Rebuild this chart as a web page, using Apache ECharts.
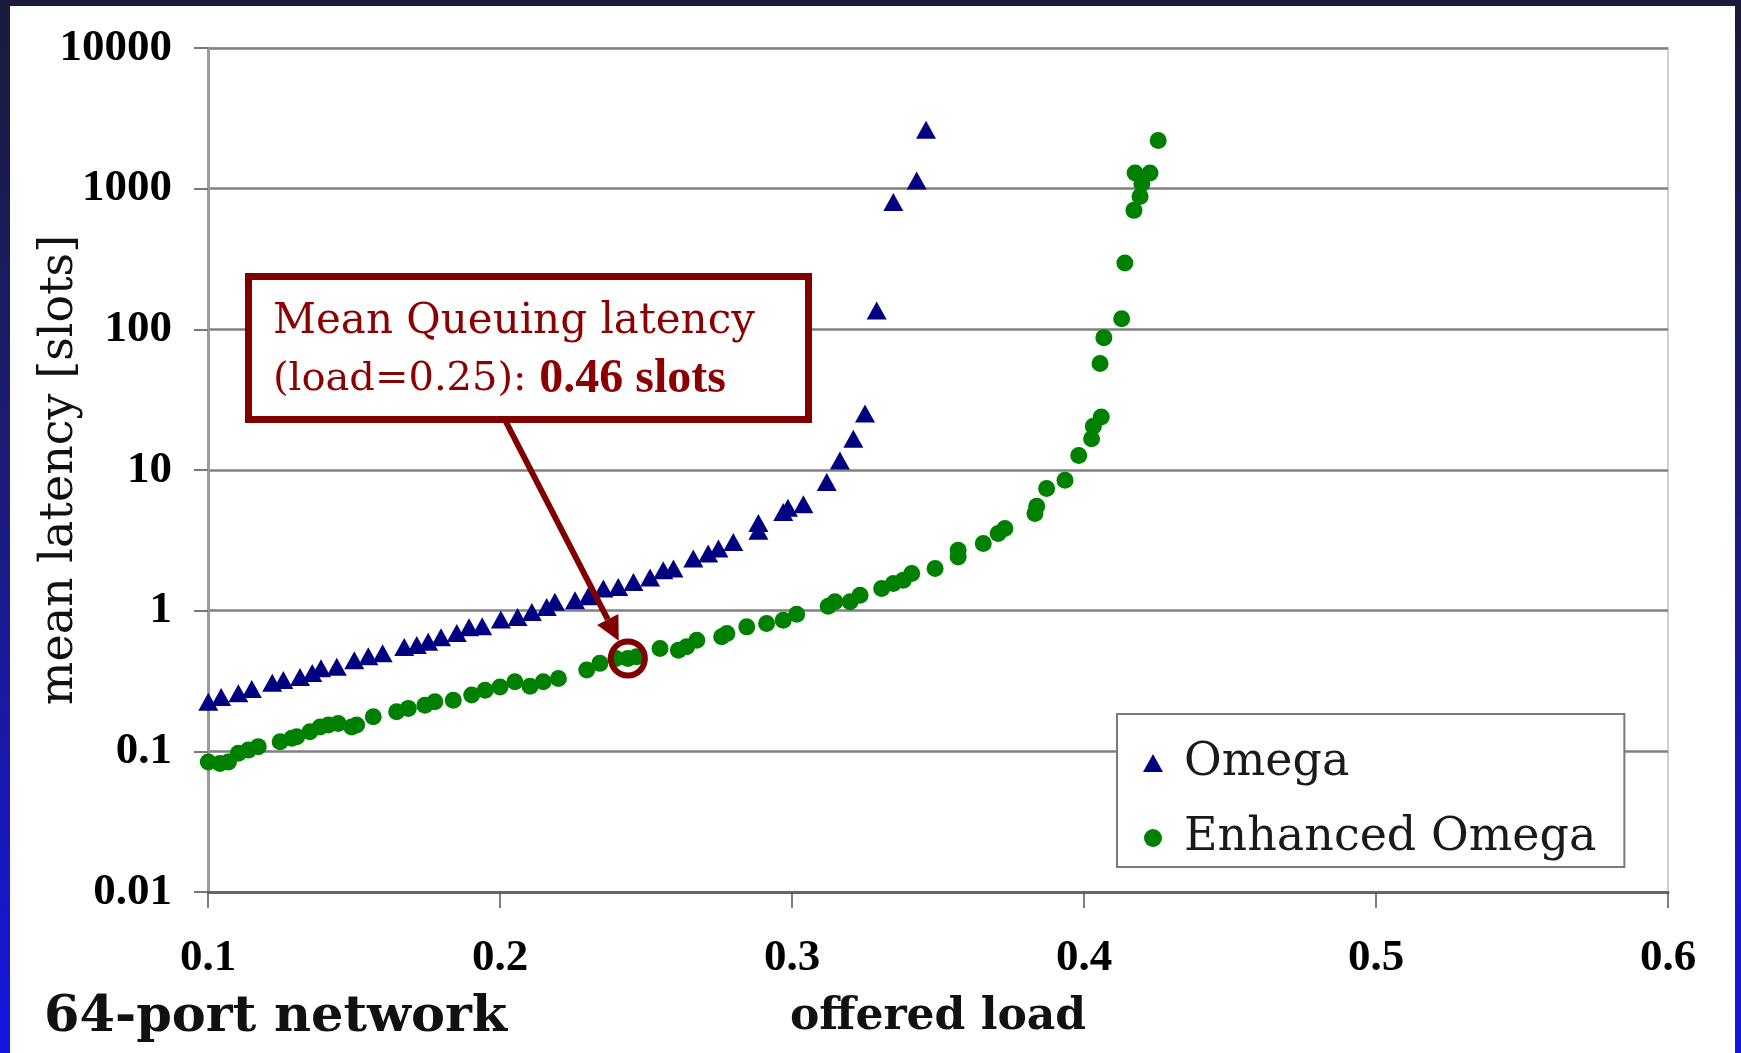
<!DOCTYPE html>
<html>
<head>
<meta charset="utf-8">
<script src="https://cdn.jsdelivr.net/npm/echarts/dist/echarts.min.js"></script>
<style>
  html, body { margin: 0; padding: 0; width: 1741px; height: 1053px; overflow: hidden; }
  body { background: linear-gradient(to bottom, #1b1b3c 0%, #1c1c78 45%, #1616e4 100%); position: relative; }
  #frame { position: absolute; left: 10px; top: 6px; right: 6px; bottom: 0; background: #fff; }
  #chart { position: absolute; left: 0; top: 0; width: 1741px; height: 1053px; }
</style>
</head>
<body>
<div id="frame"></div>
<div id="chart"></div>
<script>
let xTickLabels = ["0.1", "0.2", "0.3", "0.4", "0.5", "0.6"];
let yTickLabels = ["0.01", "0.1", "1", "10", "100", "1000", "10000"];
let seriesNames = ["Omega", "Enhanced Omega"];

// Omega (triangles)
let omegaLoad = [0.1001, 0.1045, 0.1104, 0.115, 0.122, 0.1258, 0.1315, 0.1357, 0.1387, 0.1441,
  0.1501, 0.1549, 0.1598, 0.1672, 0.1715, 0.1754, 0.1798, 0.1852, 0.1894, 0.1939,
  0.2003, 0.206, 0.2109, 0.216, 0.2188, 0.2257, 0.2302, 0.2354, 0.2405, 0.2457,
  0.2514, 0.2559, 0.2594, 0.2662, 0.2713, 0.2748, 0.2799, 0.2885, 0.2885, 0.297,
  0.2986, 0.3039, 0.3119, 0.3164, 0.321, 0.325, 0.329, 0.3347, 0.3427, 0.3459];
let omegaLatency = [0.225, 0.243, 0.259, 0.277, 0.307, 0.321, 0.337, 0.361, 0.39, 0.4,
  0.445, 0.475, 0.499, 0.551, 0.569, 0.6, 0.648, 0.695, 0.763, 0.776,
  0.866, 0.9, 0.98, 1.064, 1.155, 1.188, 1.268, 1.438, 1.476, 1.602,
  1.72, 1.94, 1.995, 2.35, 2.55, 2.77, 3.08, 3.7, 4.2, 5.03,
  5.4, 5.71, 8.22, 11.7, 16.7, 25.2, 136, 803, 1144, 2624];

// Enhanced Omega (dots)
let enhancedLoad = [0.1001, 0.1041, 0.107, 0.1104, 0.1138, 0.1172, 0.1247, 0.1287, 0.1304, 0.1349,
  0.1384, 0.1412, 0.1446, 0.1492, 0.1509, 0.1566, 0.1646, 0.1686, 0.1743, 0.1777,
  0.184, 0.1903, 0.1949, 0.2, 0.2051, 0.2103, 0.2148, 0.22, 0.2297, 0.2342,
  0.2397, 0.2438, 0.2468, 0.2548, 0.2611, 0.2639, 0.2674, 0.2759, 0.2777, 0.2845,
  0.2913, 0.297, 0.3016, 0.3124, 0.3147, 0.3199, 0.3233, 0.3307, 0.3347, 0.3381,
  0.341, 0.349, 0.3569, 0.3569, 0.3655, 0.3706, 0.3729, 0.3832, 0.3838, 0.3872,
  0.3935, 0.3982, 0.4026, 0.4032, 0.4059, 0.4055, 0.4068, 0.4129, 0.414, 0.4171,
  0.4192, 0.4198, 0.4175, 0.4226, 0.4254];
let enhancedLatency = [0.084, 0.082, 0.084, 0.097, 0.102, 0.108, 0.117, 0.124, 0.127, 0.138,
  0.149, 0.154, 0.158, 0.149, 0.154, 0.176, 0.191, 0.202, 0.213, 0.225,
  0.231, 0.251, 0.272, 0.287, 0.312, 0.29, 0.312, 0.33, 0.378, 0.422,
  0.457, 0.457, 0.47, 0.538, 0.524, 0.553, 0.617, 0.652, 0.689, 0.767,
  0.811, 0.856, 0.944, 1.076, 1.155, 1.155, 1.289, 1.438, 1.56, 1.647,
  1.838, 1.995, 2.41, 2.69, 3.0, 3.54, 3.84, 4.91, 5.53, 7.38,
  8.46, 12.7, 16.7, 20.5, 23.8, 57.1, 87.3, 119, 296, 701,
  881, 1084, 1291, 1291, 2202];

// circled point: load=0.25, 0.46 slots
let calloutPoint = [0.2438, 0.457];

let serifText = "DejaVu Serif";
let serifNum = "Liberation Serif";
let darkRed = "#800000";

let chart = echarts.init(document.getElementById("chart"));

chart.setOption({
  animation: false,
  grid: {
    left: 208,
    right: 73,
    top: 48,
    bottom: 161,
    show: true,
    borderColor: "#cfcfcf",
    borderWidth: 2,
    outerBoundsMode: "none",
  },
  legend: {
    orient: "vertical",
    left: 1117,
    top: 714,
    padding: [23, 28, 3, 26],
    itemGap: 23,
    itemWidth: 52,
    itemHeight: 18,
    symbolKeepAspect: true,
    backgroundColor: "#fff",
    borderColor: "#7a7a7a",
    borderWidth: 2,
    textStyle: {
      fontFamily: serifText,
      fontSize: 46,
      lineHeight: 52,
      color: "#1a1a1a",
    },
    data: [
      { name: seriesNames[0], icon: "path://M5,0 L10,9 L0,9 Z" },
      { name: seriesNames[1], icon: "circle" },
    ],
  },
  xAxis: {
    type: "value",
    min: 0.1,
    max: 0.6,
    interval: 0.1,
    name: "offered load",
    nameLocation: "middle",
    nameGap: 104,
    nameMoveOverlap: false,
    nameTextStyle: {
      fontFamily: serifText,
      fontWeight: "bold",
      fontSize: 44,
      color: "#111",
    },
    axisLine: { show: true, lineStyle: { color: "#666", width: 3 } },
    axisTick: { show: true, length: 16, lineStyle: { color: "#555", width: 1.5 } },
    axisLabel: {
      margin: 44,
      fontFamily: serifNum,
      fontWeight: "bold",
      fontSize: 45,
      color: "#000",
      formatter: function(v) {
        return xTickLabels[Math.round((v - 0.1) / 0.1)];
      },
    },
    splitLine: { show: false },
  },
  yAxis: {
    type: "log",
    logBase: 10,
    min: 0.01,
    max: 10000,
    name: "mean latency [slots]",
    nameLocation: "middle",
    nameGap: 125,
    nameMoveOverlap: false,
    nameTextStyle: {
      fontFamily: serifText,
      fontSize: 46,
      color: "#111",
    },
    axisLine: { show: true, lineStyle: { color: "#9a9a9a", width: 3 } },
    axisTick: { show: true, length: 14, lineStyle: { color: "#777", width: 2 } },
    axisLabel: {
      margin: 36,
      fontFamily: serifNum,
      fontWeight: "bold",
      fontSize: 45,
      color: "#000",
      formatter: function(v) {
        return yTickLabels[Math.round(Math.log10(v)) + 2];
      },
    },
    splitLine: { show: true, lineStyle: { color: "#818181", width: 2.5 } },
  },
  series: [
    {
      name: seriesNames[0],
      type: "scatter",
      symbol: "triangle",
      symbolSize: [20, 18],
      itemStyle: { color: "#000080", opacity: 1 },
      data: omegaLoad.map((x, i) => [x, omegaLatency[i]]),
    },
    {
      name: seriesNames[1],
      type: "scatter",
      symbol: "circle",
      symbolSize: 17,
      itemStyle: { color: "#008000", opacity: 1 },
      data: enhancedLoad.map((x, i) => [x, enhancedLatency[i]]),
    },
  ],
});

// callout: box, text, arrow and ring around the highlighted point
let center = chart.convertToPixel({ gridIndex: 0 }, calloutPoint);
let ringR = 17;
let start = [505, 420];
let dx = center[0] - start[0];
let dy = center[1] - start[1];
let len = Math.sqrt(dx * dx + dy * dy);
let ux = dx / len;
let uy = dy / len;
let tip = [center[0] - ux * (ringR + 3), center[1] - uy * (ringR + 3)];
let headLen = 24;
let headHalf = 12;
let base = [tip[0] - ux * headLen, tip[1] - uy * headLen];

chart.setOption({
  graphic: [
    {
      type: "rect",
      shape: { x: 248.5, y: 276.5, width: 560, height: 143 },
      style: { fill: "#fff", stroke: darkRed, lineWidth: 7 },
      z: 100,
    },
    {
      type: "text",
      x: 273,
      y: 322,
      style: {
        text: "Mean Queuing latency",
        fontFamily: serifText,
        fontSize: 42,
        fill: "#8b0000",
        verticalAlign: "middle",
      },
      z: 101,
    },
    {
      type: "text",
      x: 273,
      y: 380,
      style: {
        text: "{a|(load=0.25): }{b|0.46 slots}",
        verticalAlign: "middle",
        rich: {
          a: { fontFamily: serifText, fontSize: 40, fill: "#8b0000" },
          b: { fontFamily: serifNum, fontSize: 48, fontWeight: "bold", fill: "#8b0000" },
        },
      },
      z: 101,
    },
    {
      type: "line",
      shape: { x1: start[0], y1: start[1], x2: base[0], y2: base[1] },
      style: { stroke: darkRed, lineWidth: 6 },
      z: 100,
    },
    {
      type: "polygon",
      shape: {
        points: [
          tip,
          [base[0] - uy * headHalf, base[1] + ux * headHalf],
          [base[0] + uy * headHalf, base[1] - ux * headHalf],
        ],
      },
      style: { fill: darkRed },
      z: 100,
    },
    {
      type: "circle",
      shape: { cx: center[0], cy: center[1], r: ringR },
      style: { fill: "transparent", stroke: darkRed, lineWidth: 6 },
      z: 100,
    },
    {
      type: "text",
      x: 44,
      y: 1018,
      style: {
        text: "64-port network",
        fontFamily: serifText,
        fontWeight: "bold",
        fontSize: 51,
        fill: "#111",
        verticalAlign: "middle",
      },
      z: 100,
    },
  ],
});
</script>
</body>
</html>
